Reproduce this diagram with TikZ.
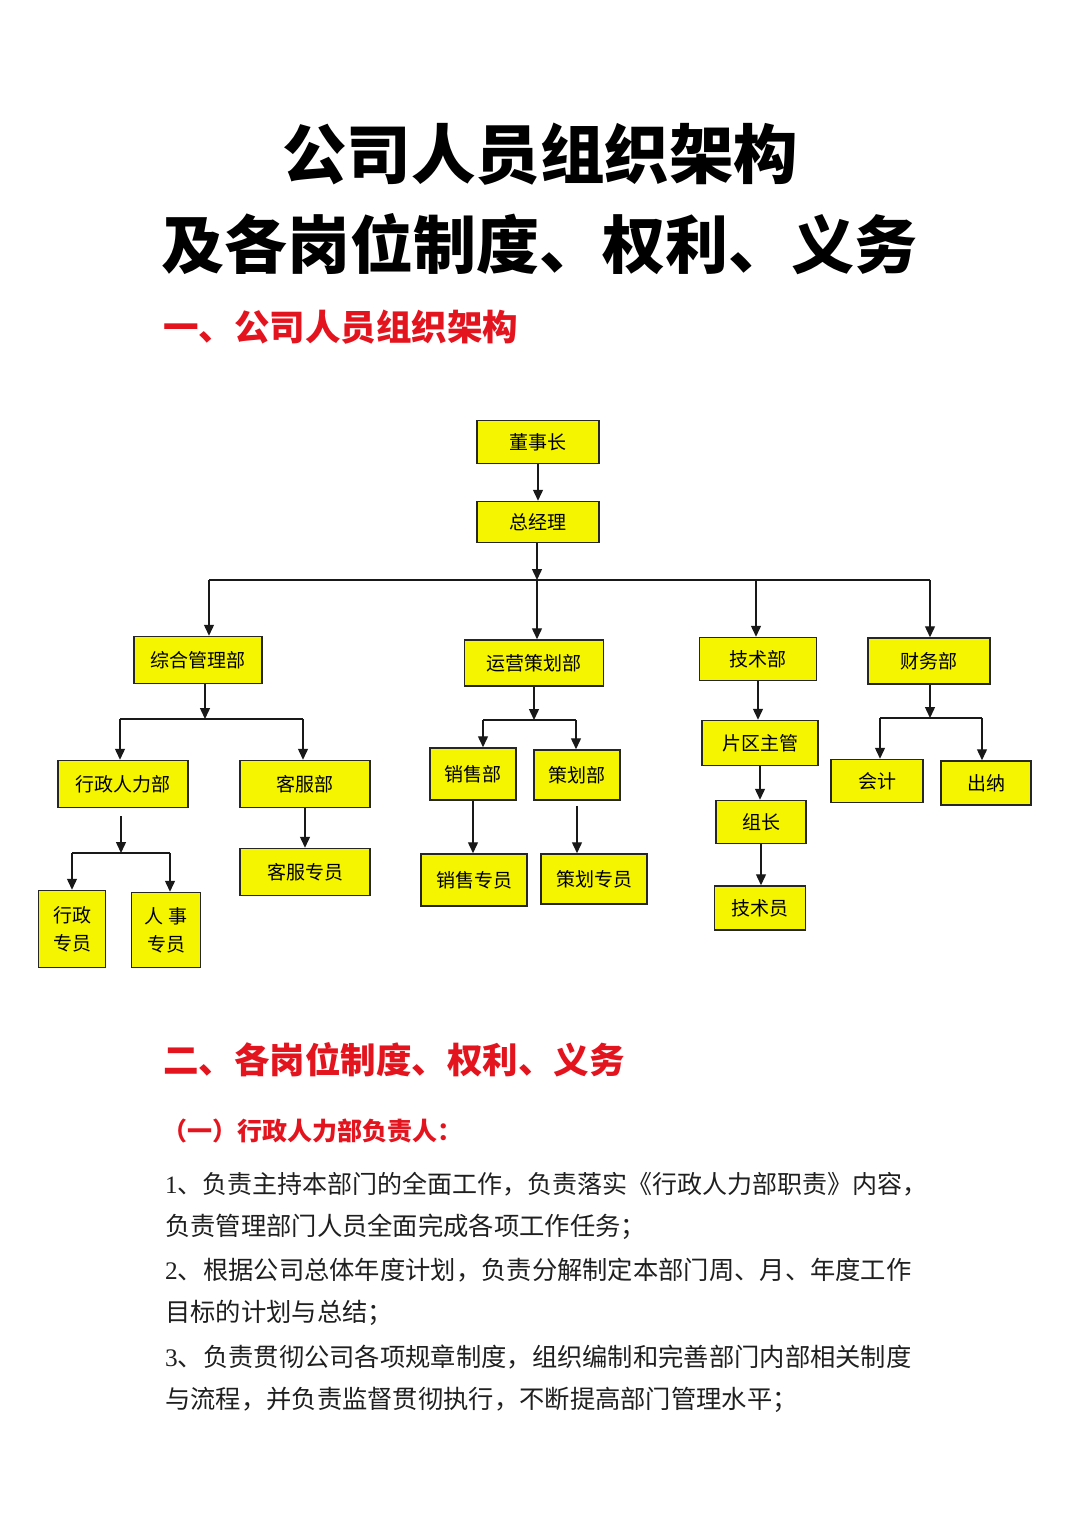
\documentclass[tikz,border=0pt]{standalone}
\usepackage{fontspec}
\setmainfont{Liberation Serif}
\newfontfamily\cjk{Noto Sans CJK SC}
\newfontfamily\digits{Liberation Serif}
\usetikzlibrary{arrows.meta}
\definecolor{boxyellow}{RGB}{245,245,0}
\definecolor{headred}{RGB}{228,20,30}

\begin{document}
\begin{tikzpicture}[x=1pt,y=-1pt]

\tikzset{unit/.style = {shape=rectangle, draw=black!85, fill=boxyellow, line width=1.5pt, inner sep=0pt, align=center, font=\cjk\fontsize{19pt}{28pt}\selectfont}}
\tikzset{link/.style = {-{Triangle[length=11pt,width=10pt]}, line width=1.4pt, black!90}}
\tikzset{bigtitle/.style = {inner sep=0pt, font=\cjk\bfseries\fontsize{63pt}{70pt}\selectfont}}
\tikzset{headline/.style = {inner sep=0pt, anchor=west, text=headred, font=\cjk\bfseries\fontsize{35.5pt}{40pt}\selectfont}}
\tikzset{subhead/.style = {inner sep=0pt, anchor=west, text=headred, font=\cjk\bfseries\fontsize{25pt}{30pt}\selectfont}}
\tikzset{bodyline/.style = {inner sep=0pt, anchor=west, text=black!88, font=\cjk\fontsize{25.3pt}{30pt}\selectfont}}

\useasboundingbox (0,0) rectangle (1080,1522);

%titles
\node[bigtitle, font=\cjk\bfseries\fontsize{64.5pt}{70pt}\selectfont] (t1) at (540,154) {公司人员组织架构};
\node[bigtitle] (t2) at (539,244) {及各岗位制度、权利、义务};
\node[headline] (h1) at (163,327) {一、公司人员组织架构};

%boxes
\node[unit, minimum width=122pt, minimum height=43pt] (dsz) at (538,442) {董事长};
\node[unit, minimum width=122pt, minimum height=41pt] (zjl) at (538,522) {总经理};
\node[unit, minimum width=128pt, minimum height=47pt] (zhgl) at (198,660) {综合管理部};
\node[unit, minimum width=139pt, minimum height=46pt] (yycb) at (534,663) {运营策划部};
\node[unit, minimum width=117pt, minimum height=43pt] (jsb) at (758,659) {技术部};
\node[unit, minimum width=122pt, minimum height=46pt] (cwb) at (929,661) {财务部};
\node[unit, minimum width=130pt, minimum height=47pt] (xzrl) at (123,784) {行政人力部};
\node[unit, minimum width=130pt, minimum height=47pt] (kfb) at (305,784) {客服部};
\node[unit, minimum width=67pt, minimum height=77pt] (xzzy) at (72,929) {行政\\专员};
\node[unit, minimum width=69pt, minimum height=75pt] (rszy) at (166,930) {人 事\\专员};
\node[unit, minimum width=130pt, minimum height=47pt] (kfzy) at (305,872) {客服专员};
\node[unit, minimum width=86pt, minimum height=52pt] (xsb) at (473,774) {销售部};
\node[unit, minimum width=86pt, minimum height=50pt] (chb) at (577,775) {策划部};
\node[unit, minimum width=106pt, minimum height=52pt] (xszy) at (474,880) {销售专员};
\node[unit, minimum width=106pt, minimum height=50pt] (chzy) at (594,879) {策划专员};
\node[unit, minimum width=116pt, minimum height=45pt] (pqzg) at (760,743) {片区主管};
\node[unit, minimum width=90pt, minimum height=43pt] (zz) at (761,822) {组长};
\node[unit, minimum width=91pt, minimum height=44pt] (jsy) at (760,908) {技术员};
\node[unit, minimum width=92pt, minimum height=43pt] (kj) at (877,781) {会计};
\node[unit, minimum width=90pt, minimum height=44pt] (cn) at (986,783) {出纳};

%junctions
\coordinate (b0l) at (209,580);
\coordinate (b0c) at (537,580);
\coordinate (b0t) at (756,580);
\coordinate (b0r) at (930,580);
\coordinate (b1c) at (205,719);
\coordinate (b1l) at (120,719);
\coordinate (b1r) at (303,719);
\coordinate (b2c) at (121,853);
\coordinate (b2l) at (72,853);
\coordinate (b2r) at (170,853);
\coordinate (b3c) at (534,720);
\coordinate (b3l) at (483,720);
\coordinate (b3r) at (576,720);
\coordinate (b4c) at (930,718);
\coordinate (b4l) at (880,718);
\coordinate (b4r) at (982,718);

%arrows
\draw[link] (dsz) -- (zjl);
\draw[link] (zjl.south -| b0c) -- (b0c);
\draw[line width=1.4pt, black!90] (b0l) -- (b0r);
\draw[link] (b0l) -- (b0l |- zhgl.north);
\draw[link] (b0c) -- (b0c |- yycb.north);
\draw[link] (b0t) -- (b0t |- jsb.north);
\draw[link] (b0r) -- (b0r |- cwb.north);

\draw[link] (zhgl.south -| b1c) -- (b1c);
\draw[line width=1.4pt, black!90] (b1l) -- (b1r);
\draw[link] (b1l) -- (b1l |- xzrl.north);
\draw[link] (b1r) -- (b1r |- kfb.north);

\draw[link] ([yshift=-8pt]xzrl.south -| b2c) -- (b2c);
\draw[line width=1.4pt, black!90] (b2l) -- (b2r);
\draw[link] (b2l) -- (b2l |- xzzy.north);
\draw[link] (b2r) -- (b2r |- rszy.north);
\draw[link] (kfb.south) -- (kfb.south |- kfzy.north);

\draw[link] (yycb.south -| b3c) -- (b3c);
\draw[line width=1.4pt, black!90] (b3l) -- (b3r);
\draw[link] (b3l) -- (b3l |- xsb.north);
\draw[link] (b3r) -- (b3r |- chb.north);
\draw[link] (xsb.south) -- (xsb.south |- xszy.north);
\draw[link] ([yshift=-5pt]chb.south) -- (chb.south |- chzy.north);

\draw[link] (jsb.south) -- (jsb.south |- pqzg.north);
\draw[link] (pqzg.south) -- (pqzg.south |- zz.north);
\draw[link] (zz.south) -- (zz.south |- jsy.north);

\draw[link] (cwb.south -| b4c) -- (b4c);
\draw[line width=1.4pt, black!90] (b4l) -- (b4r);
\draw[link] (b4l) -- (b4l |- kj.north);
\draw[link] (b4r) -- (b4r |- cn.north);

%text part
\node[headline] (h2) at (163,1060) {二、各岗位制度、权利、义务};
\node[subhead] (s1) at (162,1131) {（一）行政人力部负责人：};
\node[bodyline, font=\cjk\fontsize{25pt}{30pt}\selectfont] (l1) at (165,1184) {{\digits 1}、负责主持本部门的全面工作，负责落实《行政人力部职责》内容，};
\node[bodyline] (l2) at (165,1227) {负责管理部门人员全面完成各项工作任务；};
\node[bodyline] (l3) at (165,1270) {{\digits 2}、根据公司总体年度计划，负责分解制定本部门周、月、年度工作};
\node[bodyline] (l4) at (165,1313) {目标的计划与总结；};
\node[bodyline] (l5) at (165,1357) {{\digits 3}、负责贯彻公司各项规章制度，组织编制和完善部门内部相关制度};
\node[bodyline] (l6) at (165,1400) {与流程，并负责监督贯彻执行，不断提高部门管理水平；};

\end{tikzpicture}
\end{document}
